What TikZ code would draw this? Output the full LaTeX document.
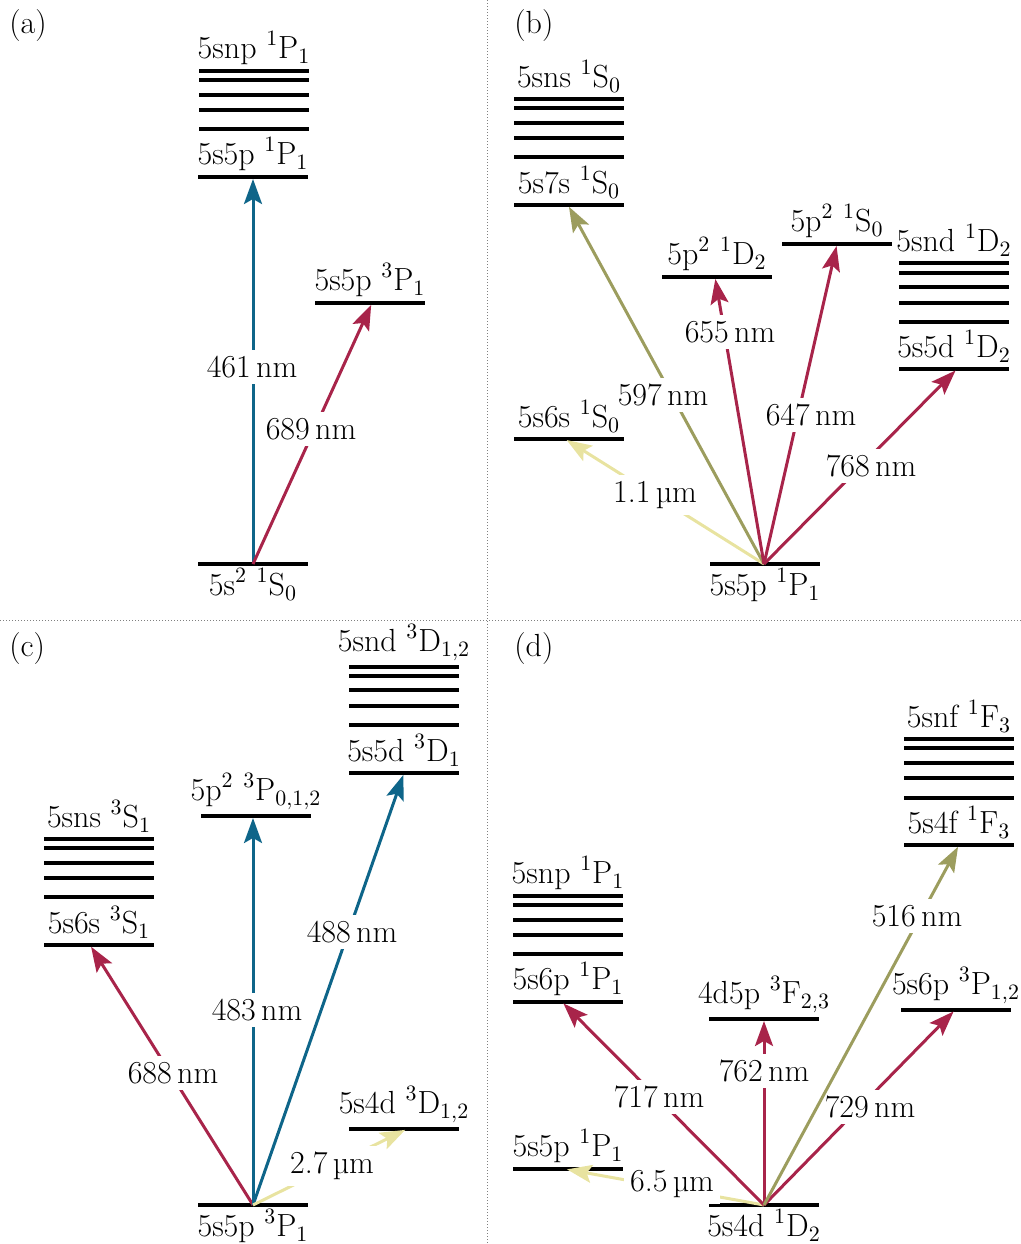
\documentclass[tikz,border=0pt]{standalone}
\usetikzlibrary{arrows.meta}
\definecolor{tblue}{HTML}{0E6589}
\definecolor{tred}{HTML}{A8244A}
\definecolor{tolive}{HTML}{9C9D5E}
\definecolor{tyellow}{HTML}{E8E3A0}

% a level: name, x, y, label set above the line
\newcommand\drawlevel[4]{%
  \coordinate (#1) at (#2,#3);
  \draw[lvl] ([xshift=-27.5pt]#1) -- ([xshift=27.5pt]#1);
  \node[uplab] (#1-lab) at (#1) {#4};}
% a level with its label set below the line
\newcommand\drawgroundlevel[4]{%
  \coordinate (#1) at (#2,#3);
  \draw[lvl] ([xshift=-27.5pt]#1) -- ([xshift=27.5pt]#1);
  \node[downlab] (#1-lab) at (#1) {#4};}
% a Rydberg series: name, x, list of y values (first one on top), label
\newcommand\drawseries[4]{%
  \foreach \yy [count=\k] in {#3} {
    \coordinate (#1-\k) at (#2,\yy);
    \draw[lvl] ([xshift=-27.5pt]#1-\k) -- ([xshift=27.5pt]#1-\k);
  }
  \node[uplab] (#1-lab) at (#1-1) {#4};}

\begin{document}
\begin{tikzpicture}[x=0.5pt,y=-0.5pt,
  font=\fontsize{16}{19}\selectfont,
  lvl/.style={line width=1.6pt},
  trans/.style={line width=1.5pt,
    -{Stealth[length=12.5pt,width=9pt,inset=2.5pt]}, shorten >=1pt},
  wl/.style={fill=white, inner sep=0.3em},
  uplab/.style={anchor=south, inner sep=0.3em},
  downlab/.style={anchor=north, inner sep=0.2em},
  panel/.style={anchor=north west, inner sep=0pt},
  divider/.style={gray, line width=0.5pt, dash pattern=on 0.5pt off 1pt}]
\useasboundingbox (0,0) rectangle (1021,1244);

% panel separators
\coordinate (vtop) at (487,0);
\coordinate (vbot) at (487,1244);
\coordinate (hleft) at (0,620);
\coordinate (hright) at (1021,620);
\draw[divider] (vtop) -- (vbot);
\draw[divider] (hleft) -- (hright);

% panel tags
\node[panel] (tagA) at (9,9) {(a)};
\node[panel] (tagB) at (514,9) {(b)};
\node[panel] (tagC) at (9,632) {(c)};
\node[panel] (tagD) at (514,632) {(d)};

%% (a) ground state 5s^2 1S0
\drawseries{aR}{254}{71,80,95,110,129}{5snp $^1$P$_1$}
\drawlevel{a1}{253}{177}{5s5p $^1$P$_1$}
\drawlevel{a2}{370}{303}{5s5p $^3$P$_1$}
\drawgroundlevel{a0}{253}{564}{5s$^2$ $^1$S$_0$}
\coordinate (a1t) at (253,177);
\coordinate (a2t) at (372,303);
\draw[trans,tblue] (a0) -- (a1t);
\draw[trans,tred] (a0) -- (a2t);
\node[wl] (wa1) at (252,367) {461\,nm};
\node[wl] (wa2) at (311,429) {689\,nm};

%% (b) 5s5p 1P1
\drawseries{bR}{569}{99,108,123,138,157}{5sns $^1$S$_0$}
\drawlevel{b7s}{569}{205}{5s7s $^1$S$_0$}
\drawlevel{b6s}{569}{439}{5s6s $^1$S$_0$}
\drawlevel{bpD}{717}{277}{5p$^2$ $^1$D$_2$}
\drawlevel{bpS}{837}{244}{5p$^2$ $^1$S$_0$}
\drawseries{bD}{954}{263,273,287,303,322}{5snd $^1$D$_2$}
\drawlevel{b5d}{954}{369}{5s5d $^1$D$_2$}
\drawgroundlevel{b0}{765}{564}{5s5p $^1$P$_1$}
\coordinate (b0s) at (764,564);
\coordinate (b6st) at (565,439);
\coordinate (b7st) at (568,205);
\coordinate (bpDt) at (715,277);
\coordinate (bpSt) at (837,244);
\coordinate (b5dt) at (957,369);
\draw[trans,tyellow] (b0s) -- (b6st);
\draw[trans,tolive] (b0s) -- (b7st);
\draw[trans,tred] (b0s) -- (bpDt);
\draw[trans,tred] (b0s) -- (bpSt);
\draw[trans,tred] (b0s) -- (b5dt);
\node[wl] (wb1) at (655,495) {1.1\,µm};
\node[wl] (wb2) at (663,395) {597\,nm};
\node[wl] (wb3) at (730,332) {655\,nm};
\node[wl] (wb4) at (811,415) {647\,nm};
\node[wl] (wb5) at (871,466) {768\,nm};

%% (c) 5s5p 3P1
\drawseries{cD}{404}{667,676,690,706,725}{5snd $^3$D$_{1,2}$}
\drawlevel{c5d}{404}{773}{5s5d $^3$D$_1$}
\drawlevel{cpP}{256}{816}{5p$^2$ $^3$P$_{0,1,2}$}
\drawseries{cS}{99}{839,848,863,878,897}{5sns $^3$S$_1$}
\drawlevel{c6s}{99}{945}{5s6s $^3$S$_1$}
\drawlevel{c4d}{404}{1129}{5s4d $^3$D$_{1,2}$}
\drawgroundlevel{c0}{253}{1205}{5s5p $^3$P$_1$}
\coordinate (c6st) at (90,945);
\coordinate (cpPt) at (253,816);
\coordinate (c5dt) at (404,773);
\coordinate (c4dt) at (407,1129);
\draw[trans,tred] (c0) -- (c6st);
\draw[trans,tblue] (c0) -- (cpPt);
\draw[trans,tblue] (c0) -- (c5dt);
\draw[trans,tyellow] (c0) -- (c4dt);
\node[wl] (wc1) at (173,1073) {688\,nm};
\node[wl] (wc2) at (257,1010) {483\,nm};
\node[wl] (wc3) at (352,932) {488\,nm};
\node[wl] (wc4) at (332,1166) {2.7\,µm};

%% (d) 5s4d 1D2
\drawseries{dF}{959}{739,748,763,778,798}{5snf $^1$F$_3$}
\drawlevel{d4f}{959}{845}{5s4f $^1$F$_3$}
\drawseries{dP}{568}{896,905,920,935,954}{5snp $^1$P$_1$}
\drawlevel{d6p}{568}{1002}{5s6p $^1$P$_1$}
\drawlevel{dF3}{764}{1019}{4d5p $^3$F$_{2,3}$}
\drawlevel{d6P}{956}{1010}{5s6p $^3$P$_{1,2}$}
\drawlevel{d5p}{568}{1169}{5s5p $^1$P$_1$}
\drawgroundlevel{d0}{764}{1205}{5s4d $^1$D$_2$}
\coordinate (d5pt) at (565,1169);
\coordinate (d6pt) at (562,1002);
\coordinate (dF3t) at (764,1019);
\coordinate (d4ft) at (959,845);
\coordinate (d6Pt) at (955,1010);
\draw[trans,tyellow] (d0) -- (d5pt);
\draw[trans,tred] (d0) -- (d6pt);
\draw[trans,tred] (d0) -- (dF3t);
\draw[trans,tred] (d0) -- (d6Pt);
\node[wl] (wd1) at (672,1184) {6.5\,µm};
\node[wl] (wd2) at (659,1097) {717\,nm};
\node[wl] (wd3) at (764,1071) {762\,nm};
\node[wl] (wd5) at (870,1107) {729\,nm};
\draw[trans,tolive] (d0) -- (d4ft);
\node[wl] (wd4) at (917,916) {516\,nm};
\end{tikzpicture}
\end{document}
